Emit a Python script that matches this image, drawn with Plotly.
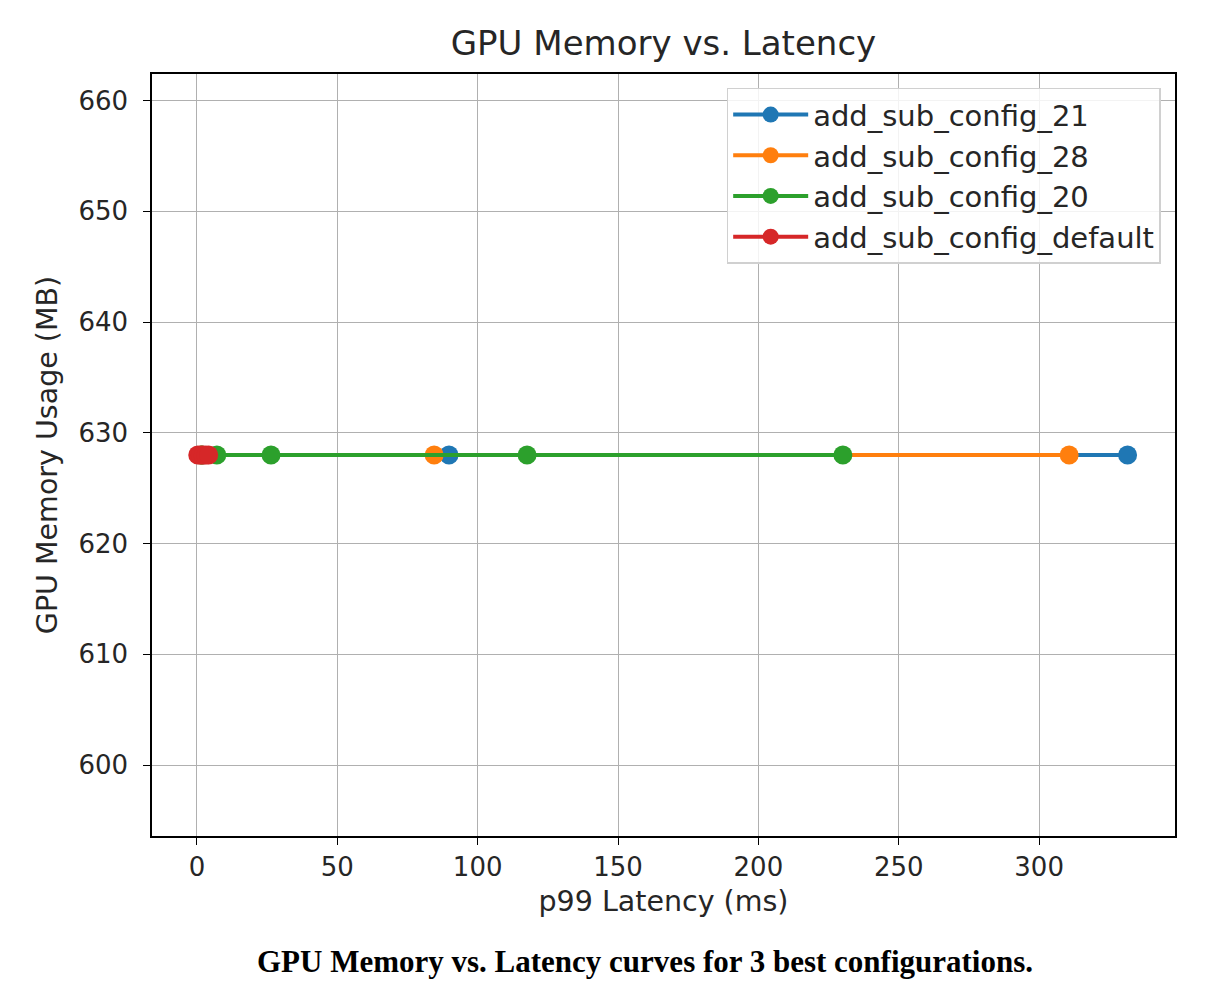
import plotly.graph_objects as go

# Data
series_names = ["add_sub_config_21", "add_sub_config_28", "add_sub_config_20", "add_sub_config_default"]
colors = ["#1f77b4", "#ff7f0e", "#2ca02c", "#d62728"]
latency_21 = [2.0, 89.8, 331.5]
memory_21 = [628, 628, 628]
latency_28 = [1.8, 84.5, 310.7]
memory_28 = [628, 628, 628]
latency_20 = [1.5, 7.1, 26.4, 117.6, 230.1]
memory_20 = [628, 628, 628, 628, 628]
latency_default = [0.3, 1.2, 2.2, 3.2, 4.2]
memory_default = [628, 628, 628, 628, 628]

xs = [latency_21, latency_28, latency_20, latency_default]
ys = [memory_21, memory_28, memory_20, memory_default]

font_family = "DejaVu Sans"

fig = go.Figure()
for name, c, x, y in zip(series_names, colors, xs, ys):
    fig.add_trace(go.Scatter(
        x=x, y=y, name=name, mode="lines+markers",
        line=dict(color=c, width=4),
        marker=dict(color=c, size=19),
    ))

fig.update_layout(
    width=1232, height=1006,
    paper_bgcolor="white", plot_bgcolor="white",
    margin=dict(l=144, r=65, t=66, b=178),
    font=dict(family=font_family, size=26, color="#262626"),
    title=dict(text="GPU Memory vs. Latency", x=0.5, xanchor="center",
               xref="paper", y=1 - 35 / 1006, yanchor="middle",
               font=dict(size=34, color="#262626")),
    showlegend=True,
    legend=dict(x=0.986, y=0.982, xanchor="right", yanchor="top",
                bgcolor="rgba(255,255,255,0.85)", bordercolor="#d0d0d0", borderwidth=1.5,
                font=dict(size=29, color="#262626"), tracegroupgap=0,
                itemwidth=75),
)

fig.update_xaxes(
    range=[-16.0, 348.4], tickmode="array", tickvals=[0, 50, 100, 150, 200, 250, 300],
    showgrid=True, gridcolor="#b0b0b0", gridwidth=1.2,
    showline=True, linecolor="black", linewidth=1.5, mirror=True,
    ticks="outside", ticklen=7, tickcolor="black", tickwidth=1.2,
    zeroline=False,
    title=dict(text="p99 Latency (ms)", standoff=10, font=dict(size=28.5)),
    tickfont=dict(size=26),
)
fig.update_yaxes(
    range=[593.6, 662.4], tickmode="array", tickvals=[600, 610, 620, 630, 640, 650, 660],
    showgrid=True, gridcolor="#b0b0b0", gridwidth=1.2,
    showline=True, linecolor="black", linewidth=1.5, mirror=True,
    ticks="outside", ticklen=7, tickcolor="black", tickwidth=1.2,
    zeroline=False,
    ticklabelstandoff=10,
    title=dict(text="GPU Memory Usage (MB)", standoff=12, font=dict(size=28.5)),
    tickfont=dict(size=26),
)

fig.add_annotation(
    text="<b>GPU Memory vs. Latency curves for 3 best configurations.</b>",
    xref="paper", yref="paper", x=0.482, y=-0.165, xanchor="center", yanchor="middle",
    showarrow=False, font=dict(family="Liberation Serif, serif", size=31, color="black"),
)

fig.write_html("out.html")
